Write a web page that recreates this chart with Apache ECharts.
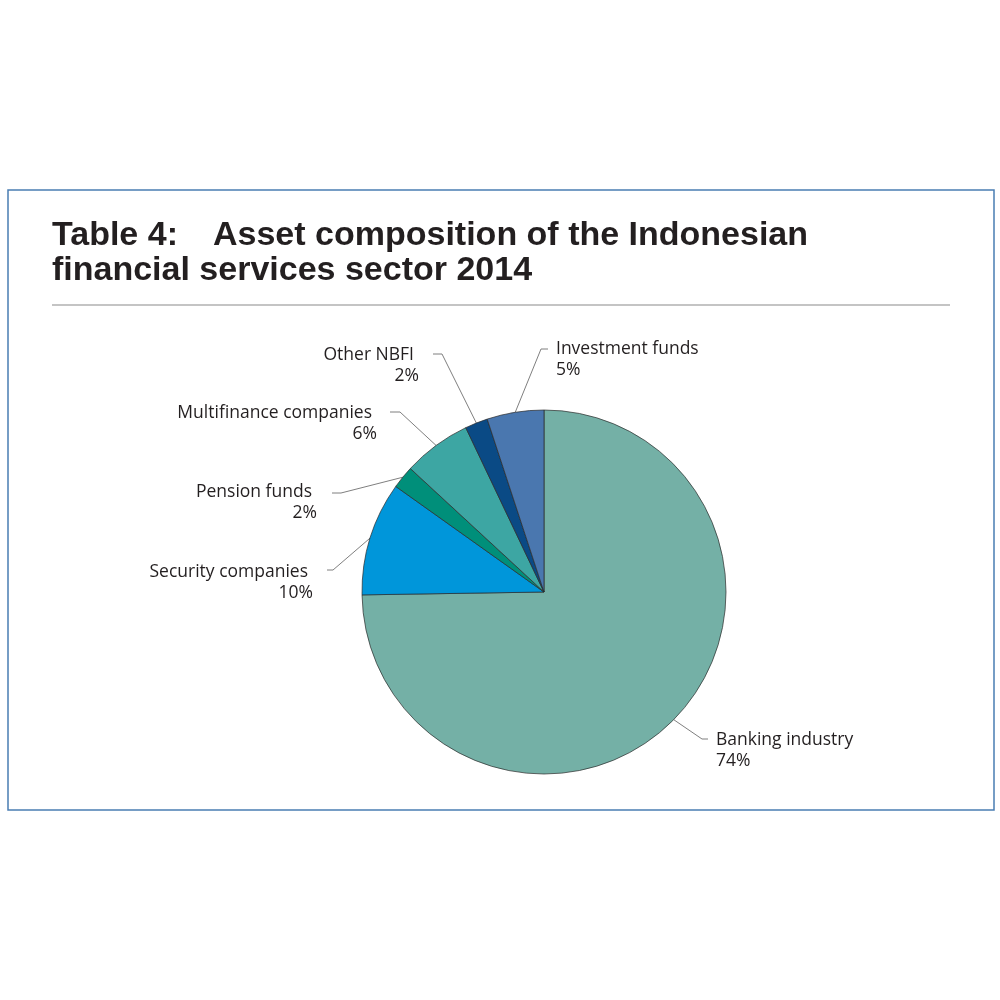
<!DOCTYPE html>
<html>
<head>
<meta charset="utf-8">
<script src="https://cdn.jsdelivr.net/npm/echarts@6/dist/echarts.min.js"></script>
<style>
html,body{margin:0;padding:0;background:#fff;}
#chart{width:1000px;height:1000px;}
</style>
</head>
<body>
<div id="chart"></div>
<script>
// ---- data ----
const categories = ['Banking industry', 'Security companies', 'Pension funds', 'Multifinance companies', 'Other NBFI', 'Investment funds'];
const shares = [74, 10, 2, 6, 2, 5];
const titleLead = 'Table 4:';
const titleLine1 = 'Asset composition of the Indonesian';
const titleLine2 = 'financial services sector 2014';

// ---- styles / layout ----
const sliceColors = ['#74b0a6', '#0096da', '#008f7a', '#3da6a3', '#0a4a85', '#4a77af'];
const labelPlacement = [
  { bend: [702, 739], tail: [708, 739], at: [716, 740], align: 'left' },
  { bend: [333, 570], tail: [327, 570], at: [313, 572], align: 'right' },
  { bend: [341, 493], tail: [332, 493], at: [317, 492], align: 'right' },
  { bend: [400, 412], tail: [390, 412], at: [377, 413], align: 'right' },
  { bend: [442, 354], tail: [433, 354], at: [419, 355], align: 'right' },
  { bend: [541, 349], tail: [548, 349], at: [556, 349], align: 'left' }
];
const LH = 21;
const LABEL_FONT = '"Open Sans", sans-serif';
const TITLE_FONT = 'bold 34px "Liberation Sans", Arial, sans-serif';

const chart = echarts.init(document.getElementById('chart'), null, { renderer: 'canvas' });

const option = {
  backgroundColor: '#ffffff',
  animation: false,
  graphic: [
    { type: 'rect', shape: { x: 8, y: 190, width: 986, height: 620 },
      style: { fill: 'none', stroke: '#4a7db3', lineWidth: 1.5 } },
    { type: 'text', x: 52, y: 236, style: { text: titleLead, fill: '#231f20',
      font: TITLE_FONT, textVerticalAlign: 'middle' } },
    { type: 'text', x: 213, y: 236, style: { text: titleLine1, fill: '#231f20',
      font: TITLE_FONT, textVerticalAlign: 'middle' } },
    { type: 'text', x: 52, y: 271, style: { text: titleLine2, fill: '#231f20',
      font: TITLE_FONT, textVerticalAlign: 'middle' } },
    { type: 'line', shape: { x1: 52, y1: 305, x2: 950, y2: 305 },
      style: { stroke: '#c4c4c4', lineWidth: 2 } }
  ],
  series: [{
    type: 'pie',
    center: [544, 592],
    radius: 182,
    startAngle: 90,
    clockwise: true,
    avoidLabelOverlap: false,
    data: categories.map((c, i) => ({ name: c, value: shares[i], itemStyle: { color: sliceColors[i] } })),
    itemStyle: { borderColor: '#2a2a2a', borderWidth: 0.7 },
    label: {
      show: true,
      position: 'outside',
      formatter: function (p) {
        const right = labelPlacement[p.dataIndex].align === 'right';
        return '{' + (right ? 'nr' : 'n') + '|' + p.name + '}\n{p|' + p.value + '%}';
      },
      rich: {
        n: { fontFamily: LABEL_FONT, fontSize: 17.5, color: '#231f20', lineHeight: LH },
        nr: { fontFamily: LABEL_FONT, fontSize: 17.5, color: '#231f20', lineHeight: LH, padding: [0, 5, 0, 0] },
        p: { fontFamily: LABEL_FONT, fontSize: 17.5, color: '#231f20', lineHeight: LH }
      }
    },
    labelLine: { show: true, length: 20, length2: 10, lineStyle: { color: '#7f7f7f', width: 1 } },
    labelLayout: function (params) {
      const p = labelPlacement[params.dataIndex];
      const pts = params.labelLinePoints;
      return {
        x: p.at[0],
        y: p.at[1] - LH / 2,
        align: p.align,
        verticalAlign: 'top',
        labelLinePoints: [pts[0], p.bend, p.tail]
      };
    }
  }]
};
chart.setOption(option);
</script>
</body>
</html>
